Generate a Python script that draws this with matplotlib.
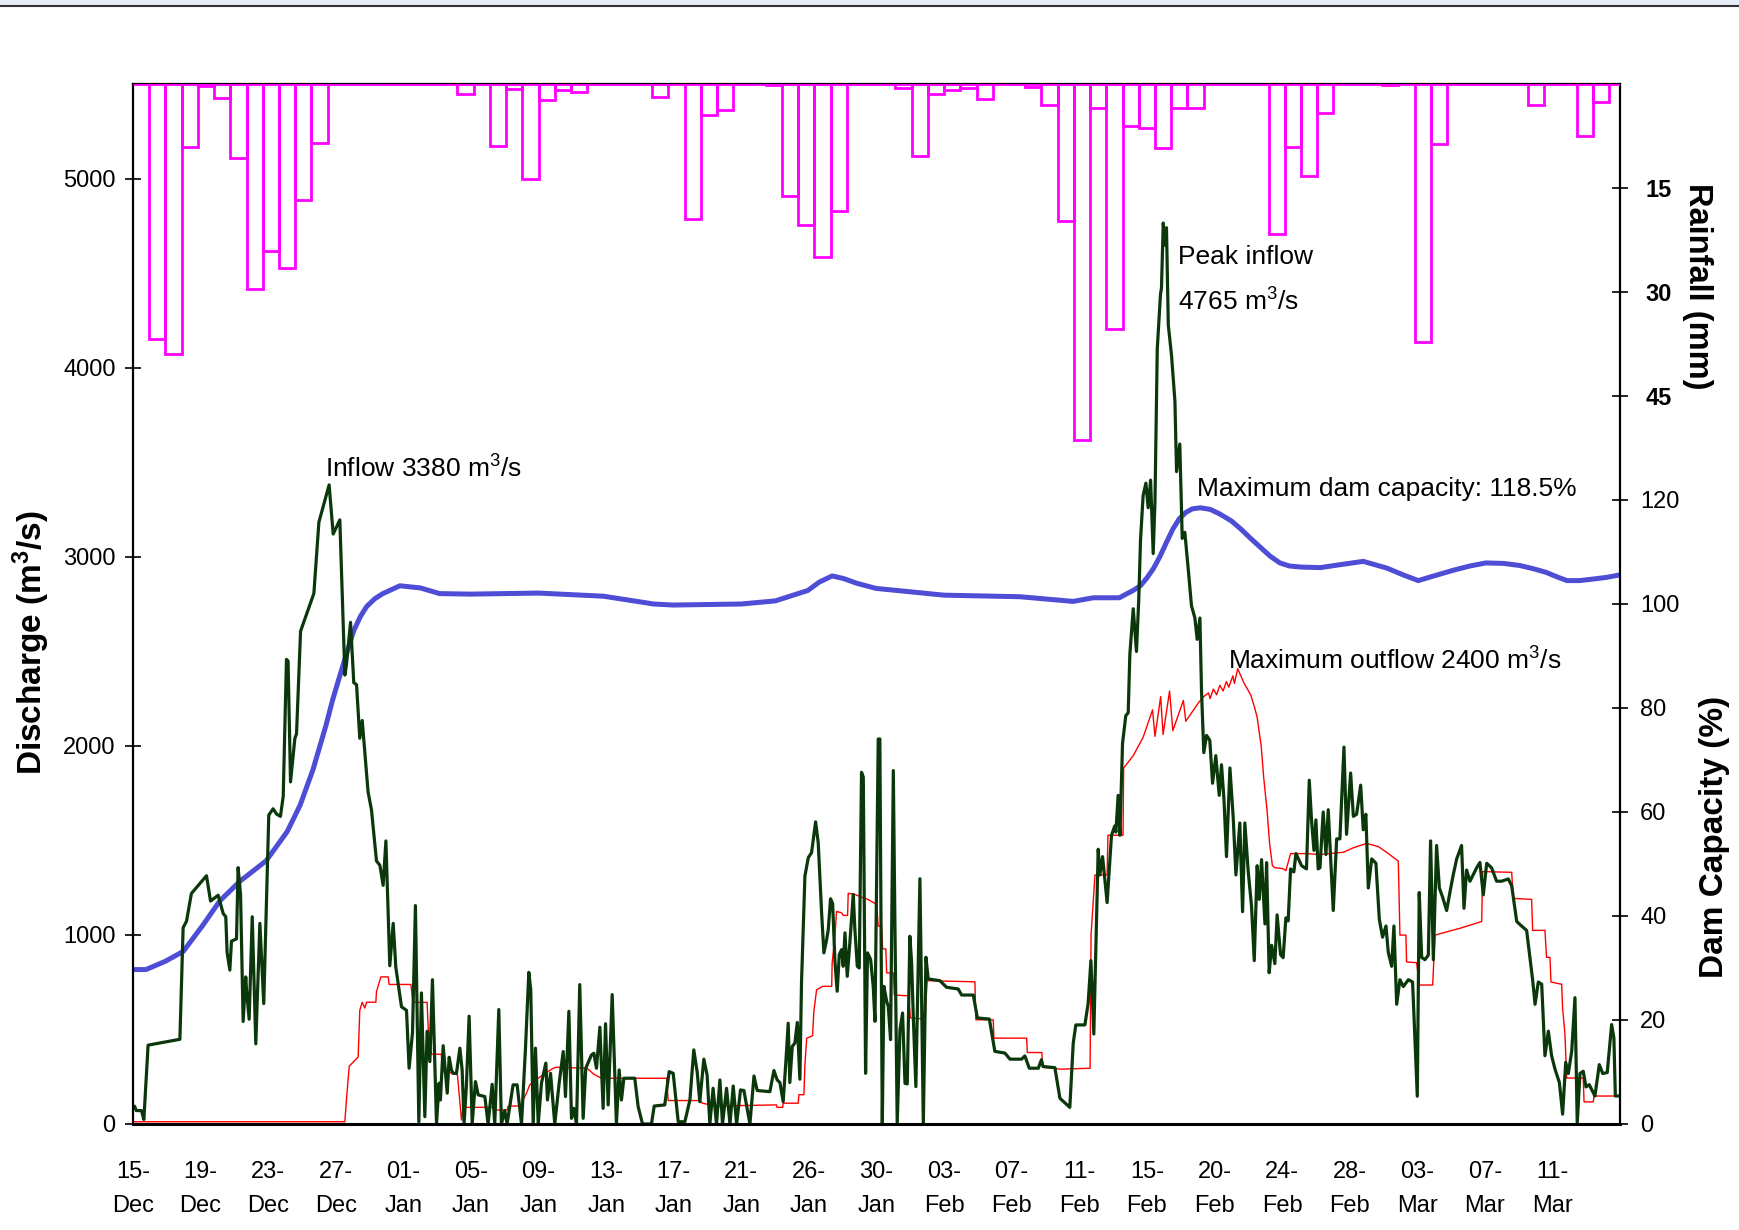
import matplotlib
matplotlib.use("Agg")
import matplotlib.pyplot as plt
from matplotlib.lines import Line2D
from matplotlib.patches import Rectangle

plt.rcParams['font.family'] = ['Liberation Sans', 'DejaVu Sans']
plt.rcParams['mathtext.fontset'] = 'custom'
plt.rcParams['mathtext.rm'] = 'Liberation Sans'
plt.rcParams['mathtext.bf'] = 'Liberation Sans:bold'
plt.rcParams['mathtext.default'] = 'regular'

# ---------------- data ----------------
tick_labels = ["15-\nDec", "19-\nDec", "23-\nDec", "27-\nDec", "01-\nJan", "05-\nJan",
               "09-\nJan", "13-\nJan", "17-\nJan", "21-\nJan", "26-\nJan", "30-\nJan",
               "03-\nFeb", "07-\nFeb", "11-\nFeb", "15-\nFeb", "20-\nFeb", "24-\nFeb",
               "28-\nFeb", "03-\nMar", "07-\nMar", "11-\nMar"]
tick_step_hours = 100
x_end_hours = 2200

# daily rainfall (mm), day 0 = 15-Dec
rain_mm = [0, 36.8, 39.0, 9.1, 0.3, 2.0, 10.7, 29.6, 24.1, 26.5, 16.8, 8.5,
           0, 0, 0, 0, 0, 0, 0, 0, 1.5, 0, 9.0, 0.7, 13.7, 2.3, 0.8, 1.2,
           0, 0, 0, 0, 1.9, 0, 19.4, 4.4, 3.8, 0, 0, 0.2, 16.2, 20.4, 25.0, 18.3,
           0, 0, 0, 0.6, 10.4, 1.5, 0.9, 0.6, 2.1, 0, 0, 0.4, 3.1, 19.8, 51.3, 3.4,
           35.4, 6.1, 6.3, 9.3, 3.4, 3.4, 0, 0, 0, 0, 21.6, 9.1, 13.3, 4.2,
           0, 0, 0, 0.2, 0, 37.2, 8.6, 0, 0, 0, 0, 0, 3.1, 0, 0, 7.5, 2.6, 0]

inflow_day = [0.00, 0.10, 0.20, 0.52, 0.67, 0.93, 2.89, 3.09, 3.30, 3.60, 4.53, 4.78, 5.25, 5.56,
              5.72, 5.80, 5.97, 6.07, 6.38, 6.48, 6.63, 6.79, 6.95, 7.00, 7.16, 7.35, 7.57, 7.82,
              8.06, 8.37, 8.64, 8.85, 9.09, 9.26, 9.46, 9.56, 9.71, 9.98, 10.08, 10.33, 11.15,
              11.46, 12.09, 12.34, 12.75, 13.06, 13.16, 13.41, 13.61, 13.78, 13.98, 14.13, 14.49,
              14.70, 15.01, 15.22, 15.42, 15.59, 15.83, 16.04, 16.20, 16.55, 16.86, 17.02, 17.23,
              17.41, 17.62, 17.78, 17.99, 18.13, 18.30, 18.46, 18.71, 18.87, 18.95, 19.12, 19.37,
              19.49, 19.63, 19.73, 19.94, 20.15, 20.29, 20.41, 20.55, 20.72, 20.91, 21.11, 21.28,
              21.69, 21.89, 22.14, 22.30, 22.55, 22.71, 22.92, 23.06, 23.43, 23.68, 23.95, 24.19,
              24.40, 24.52, 24.67, 24.81, 24.98, 25.18, 25.45, 25.55, 25.74, 26.00, 26.27, 26.52,
              26.66, 26.87, 27.03, 27.17, 27.34, 27.54, 27.75, 27.91, 28.26, 28.41, 28.57, 28.78,
              28.98, 29.13, 29.29, 29.54, 29.80, 29.97, 30.11, 30.26, 30.93, 31.14, 31.41, 31.96,
              32.13, 32.78, 33.05, 33.30, 33.61, 34.02, 34.33, 34.57, 34.78, 34.94, 35.19, 35.39,
              35.56, 35.76, 35.97, 36.18, 36.34, 36.59, 36.80, 37.00, 37.21, 37.45, 37.66, 38.03,
              38.28, 38.48, 39.26, 39.51, 39.71, 39.88, 40.08, 40.23, 40.39, 40.49, 40.64, 40.80,
              40.95, 41.11, 41.21, 41.42, 41.63, 41.83, 42.08, 42.24, 42.45, 42.59, 42.76, 42.86,
              43.00, 43.13, 43.27, 43.41, 43.54, 43.68, 43.78, 43.89, 44.03, 44.19, 44.40, 44.50,
              44.65, 44.77, 44.91, 45.02, 45.16, 45.28, 45.47, 45.63, 45.74, 45.94, 46.04, 46.19,
              46.29, 46.46, 46.56, 46.70, 46.87, 46.97, 47.11, 47.28, 47.44, 47.59, 47.73, 47.89,
              48.00, 48.10, 48.26, 48.51, 48.72, 48.88, 49.02, 49.74, 50.15, 50.87, 51.08, 51.80,
              52.05, 52.79, 53.13, 53.75, 54.06, 54.78, 54.98, 55.25, 55.81, 56.00, 56.10, 56.83,
              57.14, 57.75, 57.96, 58.12, 58.68, 58.88, 59.05, 59.23, 59.50, 59.60, 59.77, 60.05,
              60.32, 60.52, 60.59, 60.73, 60.84, 61.00, 61.20, 61.35, 61.45, 61.66, 61.86, 62.00,
              62.11, 62.27, 62.44, 62.58, 62.73, 62.89, 63.00, 63.14, 63.34, 63.40, 63.51, 63.61,
              63.71, 63.82, 64.02, 64.23, 64.33, 64.53, 64.68, 64.84, 65.05, 65.25, 65.46, 65.60,
              65.77, 65.87, 66.01, 66.18, 66.38, 66.55, 66.75, 66.96, 67.10, 67.25, 67.41, 67.62,
              67.82, 67.99, 68.23, 68.40, 68.54, 68.75, 68.95, 69.12, 69.30, 69.43, 69.57, 69.78,
              69.88, 70.04, 70.19, 70.39, 70.53, 70.74, 70.90, 71.07, 71.21, 71.36, 71.56, 71.69,
              72.04, 72.34, 72.51, 72.65, 72.80, 72.92, 73.06, 73.17, 73.37, 73.54, 73.68, 73.83,
              73.99, 74.20, 74.40, 74.65, 74.81, 75.06, 75.23, 75.43, 75.68, 75.84, 76.00, 76.15,
              76.36, 76.62, 76.83, 77.03, 77.24, 77.38, 77.59, 77.73, 77.90, 78.10, 78.31, 78.62,
              78.88, 79.17, 79.29, 79.44, 79.64, 79.85, 79.99, 80.16, 80.36, 80.53, 80.73, 80.98,
              81.18, 81.39, 81.60, 81.90, 82.05, 82.21, 82.42, 82.62, 82.83, 83.03, 83.24, 83.45,
              83.75, 84.06, 84.37, 84.78, 84.99, 85.30, 85.60, 85.91, 86.08, 86.28, 86.43, 86.63,
              86.84, 87.04, 87.25, 87.45, 87.66, 87.93, 88.13, 88.32, 88.48, 88.69, 88.89, 89.03,
              89.20, 89.40, 89.57, 89.77, 89.98, 90.12, 90.39, 90.60, 90.88, 91.15, 91.29, 91.38,
              91.67]
inflow_val = [83, 94, 71, 71, 24, 417, 448, 1038, 1073, 1219, 1313, 1179, 1210, 1113,
              1096, 908, 814, 967, 979, 1356, 1214, 542, 778, 707, 554, 1096, 424, 1061,
              637, 1634, 1667, 1639, 1627, 1733, 2457, 2448, 1809, 2040, 2063, 2606, 2806,
              3183, 3380, 3120, 3195, 2374, 2429, 2653, 2334, 2323, 2040, 2134, 1757,
              1662, 1391, 1368, 1262, 1497, 837, 1061, 830, 620, 601, 295, 483,
              1155, 12, 693, 39, 490, 330, 763, 4, 216, 127, 414, 163,
              353, 286, 268, 268, 401, 286, 4, 198, 570, 4, 224, 154,
              145, 0, 210, 0, 605, 0, 71, 0, 207, 207, 0, 392,
              802, 710, 0, 401, 0, 216, 322, 127, 268, 0, 216, 383,
              145, 596, 30, 83, 0, 737, 30, 295, 365, 374, 295, 512,
              83, 530, 101, 684, 0, 286, 127, 242, 242, 92, 0, 0,
              95, 101, 277, 268, 12, 12, 127, 392, 274, 118, 343, 260,
              0, 189, 0, 233, 0, 189, 0, 201, 0, 180, 177, 0,
              254, 177, 171, 283, 233, 219, 118, 307, 533, 219, 410, 428,
              537, 237, 746, 1311, 1409, 1435, 1598, 1488, 1117, 905, 975, 1029,
              1191, 1166, 861, 702, 896, 922, 834, 1011, 781, 958, 1214, 1029,
              834, 825, 1860, 1834, 268, 905, 870, 728, 543, 2036, 2036, 0,
              728, 649, 622, 446, 1869, 1047, 0, 498, 587, 215, 212, 993,
              852, 569, 198, 1297, 0, 882, 767, 758, 723, 714, 682, 682,
              561, 555, 384, 375, 343, 343, 360, 295, 295, 340, 304, 298,
              136, 88, 427, 524, 524, 638, 864, 476, 1453, 1317, 1414, 1171,
              1527, 1576, 1544, 1738, 1527, 2013, 2159, 2175, 2482, 2725, 2499, 2774,
              3091, 3324, 3389, 3259, 3405, 3017, 3292, 4097, 4389, 4421, 4765, 4648,
              4740, 4227, 4065, 3822, 3450, 3596, 3097, 3129, 2935, 2741, 2676, 2563,
              2676, 2288, 1964, 2055, 2029, 1802, 1948, 1738, 1900, 1722, 1414, 1883,
              1624, 1317, 1592, 1123, 1592, 1333, 1155, 864, 1366, 1188, 1398, 1058,
              1382, 800, 945, 848, 1106, 896, 880, 1090, 1074, 1349, 1333, 1430,
              1366, 1349, 1818, 1608, 1447, 1608, 1349, 1355, 1650, 1425, 1662, 1402,
              1129, 1508, 1508, 1993, 1532, 1856, 1627, 1638, 1792, 1556, 1638, 1248,
              1402, 1379, 1082, 988, 1047, 909, 834, 1047, 633, 763, 727, 763,
              751, 147, 1224, 881, 869, 893, 1497, 869, 1473, 1248, 1200, 1129,
              1224, 1319, 1402, 1473, 1141, 1343, 1284, 1319, 1355, 1383, 1212, 1379,
              1355, 1284, 1284, 1296, 1260, 1071, 1047, 1024, 905, 763, 633, 751,
              739, 361, 491, 361, 290, 219, 52, 326, 267, 385, 668, 5,
              267, 279, 196, 208, 172, 148, 314, 267, 272, 526, 455, 148,
              148]

outflow_day = [0.00, 13.06, 13.16, 13.33, 13.88, 13.98, 14.13, 14.29, 14.40, 14.97, 15.01, 15.28,
               15.73, 15.79, 17.13, 17.26, 18.13, 18.20, 18.40, 19.00, 19.12, 19.73, 20.00, 20.25,
               20.35, 22.30, 22.37, 23.06, 23.13, 23.95, 24.05, 24.26, 24.46, 24.98, 25.28, 25.59,
               25.90, 26.11, 27.96, 28.16, 28.37, 28.88, 32.89, 32.99, 34.98, 35.09, 35.97, 39.67,
               39.70, 40.05, 40.08, 41.01, 41.05, 41.36, 41.42, 41.53, 41.89, 41.97, 42.14, 42.51,
               43.07, 43.10, 43.27, 43.37, 43.68, 43.78, 44.05, 44.09, 44.50, 45.02, 45.30, 45.84,
               45.94, 46.15, 46.21, 46.41, 46.46, 46.87, 46.93, 47.79, 47.93, 48.82, 48.96, 51.90,
               51.96, 53.03, 53.07, 55.09, 55.13, 56.03, 56.07, 57.14, 57.20, 59.00, 59.06, 59.30,
               60.05, 60.10, 61.03, 61.07, 61.66, 62.27, 62.85, 63.00, 63.35, 63.50, 63.90, 64.10,
               64.75, 64.90, 65.30, 65.70, 66.00, 66.30, 66.40, 66.60, 66.80, 67.00, 67.20, 67.40,
               67.55, 67.80, 67.90, 68.10, 68.50, 68.90, 69.15, 69.30, 69.55, 69.70, 69.91,
               70.07, 70.24, 70.38, 70.90, 71.07, 71.36, 72.34, 73.17, 74.61, 75.23, 76.05, 76.77,
               77.28, 78.00, 78.10, 78.47, 78.51, 79.13, 79.29, 80.12, 80.26, 81.80, 83.14, 83.20,
               84.99, 85.09, 86.22, 86.28, 87.04, 87.14, 87.35, 87.41, 88.07, 88.13, 88.27, 88.38,
               89.40, 89.45, 90.02, 90.06, 91.67]
outflow_val = [12, 12, 130, 306, 354, 601, 644, 613, 644, 644, 700, 778,
               778, 738, 738, 644, 643, 500, 369, 369, 277, 268, 260, 21,
               88, 88, 74, 74, 95, 95, 127, 164, 207, 242, 260, 277,
               295, 300, 295, 283, 265, 242, 242, 124, 124, 110, 95, 101,
               88, 88, 110, 110, 155, 155, 313, 454, 467, 594, 710, 728,
               728, 852, 993, 1124, 1117, 1103, 1103, 1220, 1214, 1196, 1188, 1161,
               1047, 1047, 926, 926, 799, 799, 682, 678, 561, 555, 758, 752,
               551, 551, 454, 454, 378, 378, 300, 290, 290, 295, 1000, 1317,
               1317, 1527, 1527, 1883, 1948, 2045, 2190, 2050, 2260, 2060, 2290, 2080,
               2240, 2130, 2180, 2230, 2260, 2280, 2250, 2300, 2270, 2320, 2290, 2340,
               2310, 2370, 2330, 2408, 2330, 2270, 2200, 2150, 1997, 1835, 1657,
               1480, 1366, 1356, 1350, 1340, 1430, 1430, 1425, 1437, 1461, 1484, 1467,
               1437, 1390, 999, 999, 857, 853, 735, 735, 999, 1035, 1071, 1335,
               1331, 1193, 1188, 1024, 1024, 881, 881, 751, 739, 609, 479, 243,
               243, 117, 117, 148, 148]

dam_day = [0.0, 0.8, 2.0, 3.1, 3.7, 4.3, 5.35, 6.6, 8.2, 9.5, 10.3, 11.1, 11.9, 12.3, 12.75,
           13.2, 13.6, 14.0, 14.4, 14.9, 15.4, 16.45, 17.7, 18.9, 20.8, 25.0, 29.0, 32.1, 33.3,
           37.5, 39.6, 41.6, 42.3, 43.1, 43.8, 44.6, 45.8, 50.0, 54.67, 57.96, 59.2, 60.8,
           61.65, 62.1, 62.5, 62.9, 63.3, 63.7, 64.1, 64.5, 64.9, 65.3, 65.8, 66.4, 67.0,
           67.7, 68.3, 68.9, 69.5, 70.1, 70.7, 71.3, 72.0, 73.2, 74.5, 75.84, 77.3, 78.3,
           79.23, 80.3, 81.4, 82.4, 83.4, 84.5, 85.5, 86.3, 87.1, 87.8, 88.4, 89.2, 90.0,
           90.8, 91.67]
dam_pct = [29.7, 29.7, 31.3, 33.2, 35.7, 38.2, 42.9, 46.7, 50.6, 56.2, 61.3, 68.2, 76.7, 81.5, 86.2,
           90.8, 94.8, 97.5, 99.5, 101.0, 102.0, 103.5, 103.1, 102.0, 101.9, 102.1, 101.5, 100.0, 99.8,
           100.0, 100.6, 102.6, 104.2, 105.4, 104.9, 104.0, 103.0, 101.7, 101.4, 100.5, 101.2, 101.2,
           102.6, 103.5, 105.0, 106.8, 109.1, 111.8, 114.4, 116.4, 117.6, 118.3, 118.5, 118.2, 117.3,
           116.0, 114.4, 112.6, 110.9, 109.2, 107.9, 107.3, 107.1, 107.0, 107.6, 108.2, 106.9, 105.6,
           104.5, 105.5, 106.5, 107.3, 107.9, 107.8, 107.4, 106.8, 106.1, 105.2, 104.5, 104.5, 104.8,
           105.1, 105.6]

# ---------------- figure ----------------
W, H = 1740, 1230
fig = plt.figure(figsize=(W / 100, H / 100), dpi=100)

# thin frame line at the very top of the picture
fig.add_artist(Rectangle((0, 1 - 5.5 / H), 1, 5.5 / H, transform=fig.transFigure,
                         facecolor='#E8EEF6', edgecolor='none'))
fig.add_artist(Line2D([0, 1], [1 - 5.5 / H, 1 - 5.5 / H], transform=fig.transFigure,
                      color='#333333', lw=1.5))

L, R, T, B = 133, 1620, 84, 1124
ax_dam = fig.add_axes([L / W, 1 - B / H, (R - L) / W, (B - T) / H])
ax = fig.add_axes([L / W, 1 - B / H, (R - L) / W, (B - T) / H], sharex=ax_dam)
ax_rain = fig.add_axes([L / W, 1 - B / H, (R - L) / W, (B - T) / H], sharex=ax_dam)
ax.patch.set_visible(False)
ax_rain.patch.set_visible(False)

x_end = x_end_hours / 24.0
ax.set_xlim(0, x_end)

# dam capacity (blue) on its own axis, drawn below the flow lines
ax_dam.plot(dam_day, dam_pct, color='#4D4DD6', lw=3.6, solid_capstyle='round')
ax_dam.set_ylim(0, 200)
ax_dam.yaxis.tick_right()
ax_dam.yaxis.set_label_position('right')
ax_dam.set_yticks([0, 20, 40, 60, 80, 100, 120])
ax_dam.tick_params(axis='y', direction='inout', length=11, width=1.2, labelsize=17, pad=9)
ax_dam.tick_params(axis='x', length=0, labelbottom=False)
for s in ax_dam.spines.values():
    s.set_visible(False)

# discharge lines
ax.plot(outflow_day, outflow_val, color='#FF0000', lw=1.0)
ax.plot(inflow_day, inflow_val, color='#0B380B', lw=2.3)
ax.set_ylim(0, 5500)
ax.set_yticks([0, 1000, 2000, 3000, 4000, 5000])
ax.tick_params(axis='y', direction='inout', length=11, width=1.2, labelsize=17, pad=7)
xt = [i * tick_step_hours / 24.0 for i in range(len(tick_labels))]
ax.set_xticks(xt)
ax.set_xticklabels(tick_labels, fontsize=17, linespacing=1.7)
ax.tick_params(axis='x', length=0, pad=27)
for s in ax.spines.values():
    s.set_linewidth(1.6)
ax.spines['bottom'].set_linewidth(2.2)

# rainfall bars hanging from the top
days = list(range(len(rain_mm)))
ax_rain.bar(days, rain_mm, width=1.0, align='edge', fill=False,
            edgecolor='#FF00FF', linewidth=2.0)
ax_rain.set_ylim(150, 0)
ax_rain.yaxis.tick_right()
ax_rain.yaxis.set_label_position('right')
ax_rain.set_yticks([15, 30, 45])
ax_rain.tick_params(axis='y', direction='inout', length=11, width=1.2, labelsize=17, pad=13)
for lab in ax_rain.get_yticklabels():
    lab.set_fontweight('bold')
ax_rain.tick_params(axis='x', length=0, labelbottom=False)
for s in ax_rain.spines.values():
    s.set_visible(False)
ax_rain.set_xlim(0, x_end)

# axis labels
ax.set_ylabel(r"Discharge (m$^3$/s)", fontsize=24, fontweight='bold', va='center')
ax.yaxis.set_label_coords((31 - L) / (R - L), (B - 643) / (B - T))
ax_rain.set_ylabel("Rainfall (mm)", fontsize=23.5, fontweight='bold', rotation=270, va='center')
ax_rain.yaxis.set_label_coords((1698 - L) / (R - L), (B - 286) / (B - T))
ax_dam.set_ylabel("Dam Capacity (%)", fontsize=24, fontweight='bold', rotation=90, va='center')
ax_dam.yaxis.set_label_coords((1714 - L) / (R - L), (B - 837) / (B - T))

# annotations
ax.text(11.83, 3420, r"Inflow 3380 m$^3$/s", fontsize=19, ha='left', va='baseline')
ax.text(64.4, 4550, "Peak inflow", fontsize=19, ha='left', va='baseline')
ax.text(64.4, 4300, r"4765 m$^3$/s", fontsize=19, ha='left', va='baseline')
ax.text(65.6, 3320, "Maximum dam capacity: 118.5%", fontsize=19, ha='left', va='baseline')
ax.text(67.5, 2405, r"Maximum outflow 2400 m$^3$/s", fontsize=19, ha='left', va='baseline')

fig.savefig("out.png", dpi=100)
